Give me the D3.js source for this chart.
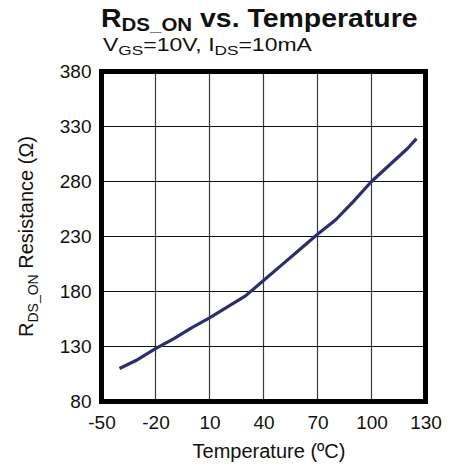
<!DOCTYPE html>
<html><head><meta charset="utf-8">
<script src="https://cdn.jsdelivr.net/npm/d3@7"></script>
<style>html,body{margin:0;padding:0;background:#fff;}svg{display:block;font-family:"Liberation Sans",Arial,sans-serif;}</style>
</head><body>
<script>
const temperature = [-40,-30,-20,-10,0,10,20,30,40,50,60,70,80,90,100,110,120,125];
const resistance  = [110,118,128,137,147,156,166,176,190,204,218,232,245,262,280,295,310,319];
const xTicks = [-50,-20,10,40,70,100,130];
const yTicks = [80,130,180,230,280,330,380];

const W = 459, H = 468;
const svg = d3.select("body").append("svg").attr("width", W).attr("height", H);
const x = d3.scaleLinear().domain([-50,130]).range([101.5,425.5]);
const y = d3.scaleLinear().domain([80,380]).range([401.5,71.5]);

// gridlines
svg.append("g").selectAll("line").data(xTicks.slice(1,-1)).join("line")
  .attr("x1", d=>x(d)).attr("x2", d=>x(d)).attr("y1", y(380)).attr("y2", y(80))
  .attr("stroke", "#3a3a3a").attr("stroke-width", 1.2);
svg.append("g").selectAll("line").data(yTicks.slice(1,-1)).join("line")
  .attr("y1", d=>y(d)).attr("y2", d=>y(d)).attr("x1", x(-50)).attr("x2", x(130))
  .attr("stroke", "#111").attr("stroke-width", 1.1);

// data line
const pts = temperature.map((t,i)=>[t,resistance[i]]);
svg.append("path").datum(pts)
  .attr("d", d3.line().x(d=>x(d[0])).y(d=>y(d[1])))
  .attr("fill","none").attr("stroke","#2d2f6c").attr("stroke-width",3.2).attr("stroke-linejoin","round");

// frame
svg.append("rect").attr("x", x(-50)).attr("y", y(380))
  .attr("width", x(130)-x(-50)).attr("height", y(80)-y(380))
  .attr("fill","none").attr("stroke","#000").attr("stroke-width",5);

const fmt = d => String(d);
const xAxis = svg.append("g").attr("transform", `translate(0,${y(80)})`)
  .call(d3.axisBottom(x).tickValues(xTicks).tickSize(0).tickPadding(14).tickFormat(fmt));
xAxis.select(".domain").remove();
xAxis.selectAll("text").attr("font-size", 19).attr("fill","#111").attr("font-family","Liberation Sans, Arial, sans-serif");

const yAxis = svg.append("g").attr("transform", `translate(${x(-50)},0)`)
  .call(d3.axisLeft(y).tickValues(yTicks).tickSize(0).tickPadding(10).tickFormat(fmt));
yAxis.select(".domain").remove();
yAxis.selectAll("text").attr("font-size", 19).attr("fill","#111").attr("font-family","Liberation Sans, Arial, sans-serif");

function fitWidth(g, left, target) {
  const w = g.node().getBBox().width;
  g.attr("transform", `translate(${left},0) scale(${target / w},1)`);
}

// title
const tg = svg.append("g");
const title = tg.append("text").attr("x", 0).attr("y", 27).attr("font-size", 25).attr("font-weight","bold").attr("fill","#111");
title.append("tspan").text("R");
title.append("tspan").attr("font-size", 18).attr("dy", 4).text("DS_ON");
title.append("tspan").attr("dy", -4).text(" vs. Temperature");
fitWidth(tg, 101, 317);

const sg = svg.append("g");
const sub = sg.append("text").attr("x", 0).attr("y", 51).attr("font-size", 18).attr("fill","#111");
sub.append("tspan").text("V");
sub.append("tspan").attr("font-size", 13.5).attr("dy", 4).text("GS");
sub.append("tspan").attr("dy", -4).text("=10V, I");
sub.append("tspan").attr("font-size", 13.5).attr("dy", 4).text("DS");
sub.append("tspan").attr("dy", -4).text("=10mA");
fitWidth(sg, 103, 209);

// axis titles
svg.append("text").attr("x", 269).attr("y", 458).attr("text-anchor","middle")
  .attr("font-size", 20).attr("fill","#111").text("Temperature (ºC)");

const yt = svg.append("text").attr("transform", `translate(33,${(y(80)+y(380))/2}) rotate(-90)`)
  .attr("text-anchor","middle").attr("font-size", 20).attr("fill","#111");
yt.append("tspan").text("R");
yt.append("tspan").attr("font-size", 14).attr("dy", 5).text("DS_ON");
yt.append("tspan").attr("dy", -5).text(" Resistance (Ω)");
</script>
</body></html>
